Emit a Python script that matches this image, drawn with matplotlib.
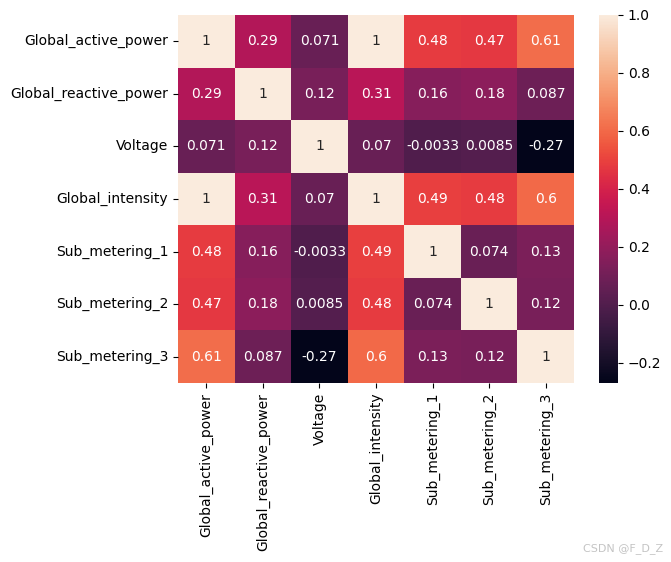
import numpy as np
import pandas as pd
import matplotlib
matplotlib.use("Agg")
import matplotlib.pyplot as plt
import seaborn as sns

cols = ["Global_active_power", "Global_reactive_power", "Voltage",
        "Global_intensity", "Sub_metering_1", "Sub_metering_2", "Sub_metering_3"]

row_gap = [1, 0.29, 0.071, 1, 0.48, 0.47, 0.61]
row_grp = [0.29, 1, 0.12, 0.31, 0.16, 0.18, 0.087]
row_volt = [0.071, 0.12, 1, 0.07, -0.0033, 0.0085, -0.27]
row_gi = [1, 0.31, 0.07, 1, 0.49, 0.48, 0.6]
row_sm1 = [0.48, 0.16, -0.0033, 0.49, 1, 0.074, 0.13]
row_sm2 = [0.47, 0.18, 0.0085, 0.48, 0.074, 1, 0.12]
row_sm3 = [0.61, 0.087, -0.27, 0.6, 0.13, 0.12, 1]

corr = pd.DataFrame([row_gap, row_grp, row_volt, row_gi, row_sm1, row_sm2, row_sm3],
                    index=cols, columns=cols)

fig = plt.figure(figsize=(6.71, 5.62), dpi=100)
ax = fig.add_axes([178 / 671, 1 - 383 / 562, (574 - 178) / 671, (383 - 15) / 562])
cax = fig.add_axes([599 / 671, 1 - 383 / 562, 19 / 671, (383 - 15) / 562])

sns.heatmap(corr, annot=True, ax=ax, cbar_ax=cax)

fig.text(663 / 671, 1 - 549 / 562, "CSDN @F_D_Z", ha="right", va="center",
         fontsize=8, color="#c4c4c4")

plt.savefig("out.png", dpi=100)
